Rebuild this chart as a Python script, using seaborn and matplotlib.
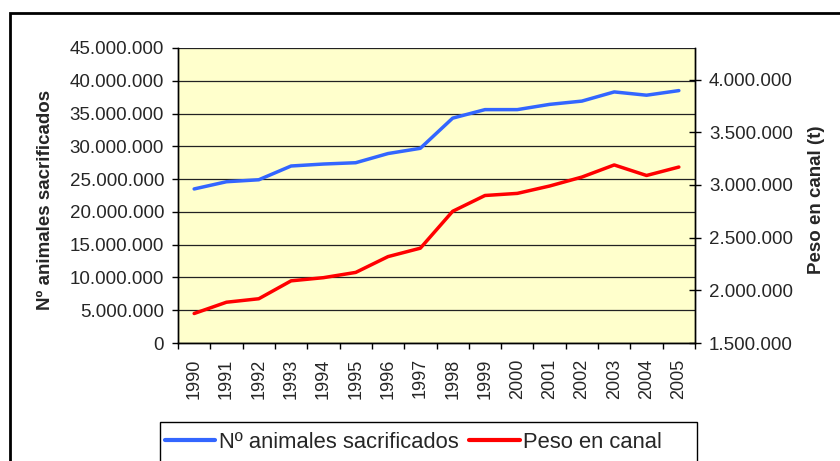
import matplotlib
matplotlib.use('Agg')
import matplotlib.pyplot as plt
import matplotlib.ticker as mticker
from matplotlib.patches import Rectangle
import numpy as np
import pandas as pd
import seaborn as sns

years = [str(y) for y in range(1990, 2006)]
animales = [23.5e6, 24.6e6, 24.9e6, 27.0e6, 27.3e6, 27.5e6, 28.9e6, 29.7e6,
            34.3e6, 35.6e6, 35.6e6, 36.4e6, 36.9e6, 38.3e6, 37.8e6, 38.5e6]
peso = [1.78e6, 1.887e6, 1.92e6, 2.09e6, 2.12e6, 2.17e6, 2.32e6, 2.40e6,
        2.75e6, 2.90e6, 2.92e6, 2.99e6, 3.075e6, 3.19e6, 3.09e6, 3.17e6]

df = pd.DataFrame({'year': years, 'animales': animales, 'peso': peso})

sns.set_style('white')
plt.rcParams['font.family'] = ['Liberation Sans', 'DejaVu Sans']

fig = plt.figure(figsize=(8.4, 4.61), dpi=100)
ax = fig.add_axes([178 / 840, 1 - 343 / 461, 517 / 840, 295 / 461])
ax.set_facecolor('#FFFFCC')

blue = '#3366FF'
red = '#FF0000'

sns.lineplot(data=df, x='year', y='animales', ax=ax, color=blue, lw=2.5,
             label='Nº animales sacrificados', legend=False)
ax2 = ax.twinx()
sns.lineplot(data=df, x='year', y='peso', ax=ax2, color=red, lw=2.5,
             label='Peso en canal', legend=False)

fmt = mticker.FuncFormatter(lambda v, p: f"{int(round(v)):,}".replace(',', '.'))

ax.set_ylim(0, 45e6)
ax.set_yticks(np.arange(0, 45e6 + 1, 5e6))
ax.yaxis.set_major_formatter(fmt)
ax.grid(axis='y', color='#222222', lw=0.9)
ax.set_axisbelow(True)

ax2.set_ylim(1.5e6, 4.3e6)
ax2.set_yticks(np.arange(1.5e6, 4.0e6 + 1, 5e5))
ax2.yaxis.set_major_formatter(fmt)

ax.set_xlim(-0.5, len(years) - 0.5)
ax.set_xticks(range(len(years)))
ax.set_xticklabels(years, rotation=90)
ax.set_xticks(np.arange(-0.5, len(years), 1), minor=True)
ax.tick_params(axis='x', which='major', length=0, pad=11, labelsize=13)
ax.tick_params(axis='x', which='minor', length=4, width=1, direction='out',
               color='black', bottom=True)
ax.tick_params(axis='y', length=4.5, width=1, direction='out', color='black',
               left=True, labelsize=13.5, pad=5.5)
ax2.tick_params(axis='y', length=8, width=1, direction='inout', color='black',
                right=True, labelsize=13.5, pad=6)

for a in (ax, ax2):
    a.spines['top'].set_visible(False)
    for s in ('left', 'right', 'bottom'):
        a.spines[s].set_color('black')
        a.spines[s].set_linewidth(1)
ax.set_xlabel('')
ax.set_ylabel('Nº animales sacrificados', fontsize=13.5, fontweight='bold')
ax2.set_ylabel('Peso en canal (t)', fontsize=13.5, fontweight='bold',
               rotation=90)
ax.yaxis.set_label_coords(-0.24, 0.485)
ax2.yaxis.set_label_coords(1.218, 0.485)

h1, l1 = ax.get_legend_handles_labels()
h2, l2 = ax2.get_legend_handles_labels()
leg = fig.legend(h1 + h2, l1 + l2, loc='center left', ncol=2,
                 bbox_to_anchor=(165 / 840, 1 - 442 / 461),
                 fontsize=15.8, frameon=False, handlelength=2.3,
                 handletextpad=0.15, columnspacing=0.5, borderpad=0,
                 borderaxespad=0)
for line in leg.get_lines():
    line.set_linewidth(3)

fig.patches.append(Rectangle((160 / 840, -0.1), 537 / 840, 1 - 422 / 461 + 0.1,
                             transform=fig.transFigure, fill=False,
                             edgecolor='black', lw=1))
fig.patches.append(Rectangle((10 / 840, -0.1), 1.0, 1 - 13 / 461 + 0.1,
                             transform=fig.transFigure, fill=False,
                             edgecolor='black', lw=2, zorder=-1))

fig.savefig('out.png', dpi=100)
